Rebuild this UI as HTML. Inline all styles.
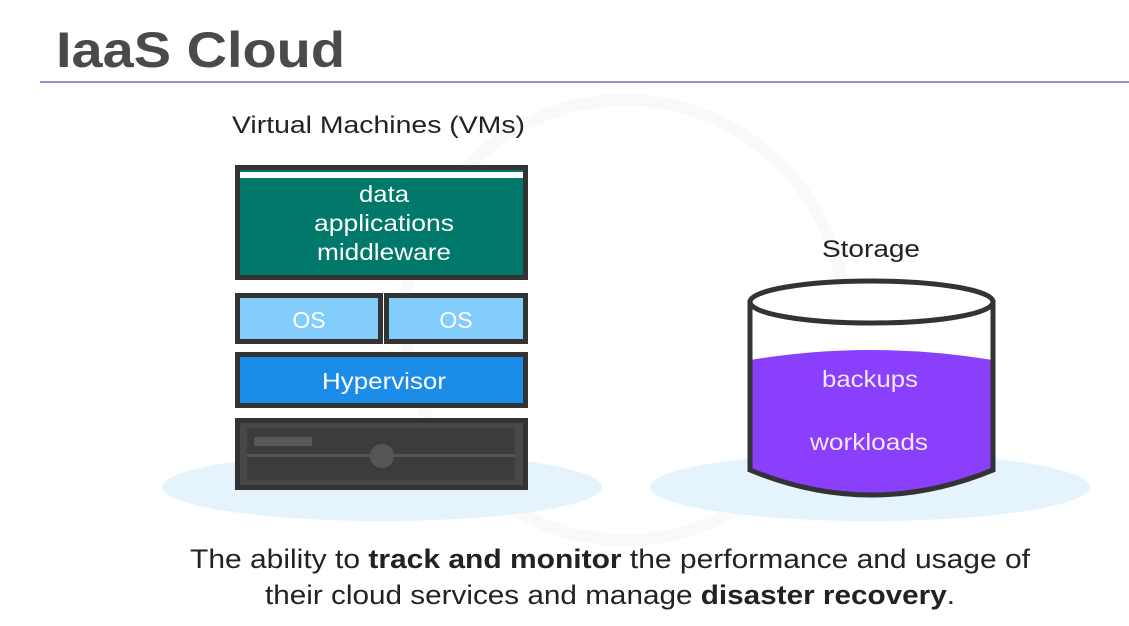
<!DOCTYPE html>
<html><head><meta charset="utf-8"><style>
html,body{margin:0;padding:0;background:#fff;}
svg{display:block;font-family:"Liberation Sans",sans-serif;}
</style></head><body>
<svg width="1129" height="626" viewBox="0 0 1129 626" xmlns="http://www.w3.org/2000/svg">
<rect width="1129" height="626" fill="#fff"/>
<circle cx="625" cy="320" r="220" fill="none" stroke="#f9f9fa" stroke-width="12"/>
<text x="56" y="67" font-size="50" font-weight="bold" fill="#4a4a4a" textLength="289" lengthAdjust="spacingAndGlyphs">IaaS Cloud</text>
<rect x="40" y="81" width="1089" height="2" fill="#9a90d6"/>
<text x="232" y="133" font-size="24" fill="#222" textLength="293" lengthAdjust="spacingAndGlyphs">Virtual Machines (VMs)</text>
<ellipse cx="382" cy="487" rx="220" ry="34" fill="#e5f3fc"/>
<ellipse cx="870" cy="487" rx="220" ry="34" fill="#e5f3fc"/>
<rect x="237.5" y="167.5" width="288" height="110" fill="#00786a" stroke="#333" stroke-width="5"/>
<rect x="240" y="172" width="283" height="6" fill="#fff"/>
<text x="384" y="202" font-size="23" fill="#fff" text-anchor="middle" textLength="50" lengthAdjust="spacingAndGlyphs">data</text>
<text x="384" y="231" font-size="23" fill="#fff" text-anchor="middle" textLength="140" lengthAdjust="spacingAndGlyphs">applications</text>
<text x="384" y="260" font-size="23" fill="#fff" text-anchor="middle" textLength="134" lengthAdjust="spacingAndGlyphs">middleware</text>
<rect x="237.5" y="295.5" width="143" height="46" fill="#82cdfb" stroke="#333" stroke-width="5"/>
<rect x="386.5" y="295.5" width="139" height="46" fill="#82cdfb" stroke="#333" stroke-width="5"/>
<text x="309" y="328" font-size="23" fill="#fff" text-anchor="middle">OS</text>
<text x="456" y="328" font-size="23" fill="#fff" text-anchor="middle">OS</text>
<rect x="237.5" y="354.5" width="288" height="51" fill="#1b8ce8" stroke="#333" stroke-width="5"/>
<text x="384" y="389" font-size="23" fill="#fff" text-anchor="middle" textLength="124" lengthAdjust="spacingAndGlyphs">Hypervisor</text>
<rect x="237.5" y="420.5" width="288" height="67" fill="#48484a" stroke="#333" stroke-width="5"/>
<rect x="247" y="428" width="268" height="52" fill="#3c3c3e"/>
<rect x="247" y="454" width="268" height="3" fill="#555"/>
<rect x="254" y="437" width="58" height="9" fill="#58585a"/>
<circle cx="382" cy="456" r="12" fill="#565658"/>
<text x="871" y="257" font-size="24" fill="#222" text-anchor="middle" textLength="98" lengthAdjust="spacingAndGlyphs">Storage</text>
<path d="M750,300 L750,470 Q871,520 993,470 L993,300 Z" fill="#fff"/>
<path d="M750,360 Q871,340 993,360 L993,470 Q871,520 750,470 Z" fill="#8a3ffc"/>
<path d="M750,300 L750,470 Q871,520 993,470 L993,300" fill="none" stroke="#333" stroke-width="5"/>
<ellipse cx="871.5" cy="302" rx="121.5" ry="21" fill="#fff" stroke="#333" stroke-width="5"/>
<text x="870" y="387" font-size="23" fill="#f3e6ff" text-anchor="middle" textLength="96" lengthAdjust="spacingAndGlyphs">backups</text>
<text x="869" y="450" font-size="23" fill="#f3e6ff" text-anchor="middle" textLength="118" lengthAdjust="spacingAndGlyphs">workloads</text>
<text x="610" y="568" font-size="27" fill="#222" text-anchor="middle" textLength="840" lengthAdjust="spacingAndGlyphs">The ability to <tspan font-weight="bold">track and monitor</tspan> the performance and usage of</text>
<text x="610" y="604" font-size="27" fill="#222" text-anchor="middle" textLength="690" lengthAdjust="spacingAndGlyphs">their cloud services and manage <tspan font-weight="bold">disaster recovery</tspan>.</text>
</svg>
</body></html>
